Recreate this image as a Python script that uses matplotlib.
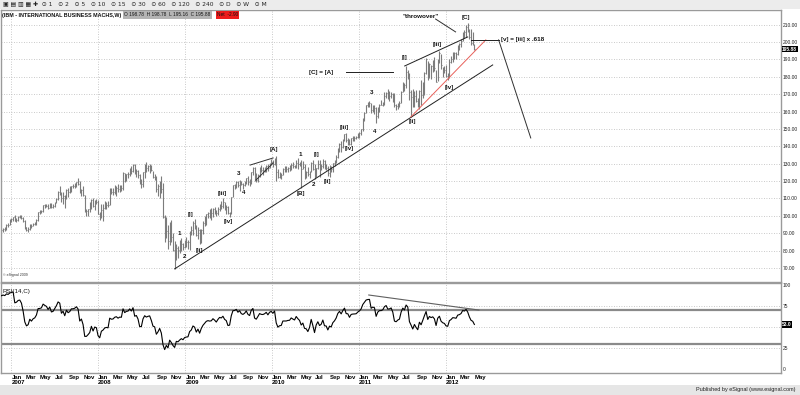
import numpy as np
import pandas as pd
import matplotlib
matplotlib.use("Agg")
import matplotlib.pyplot as plt
from matplotlib.transforms import blended_transform_factory
from matplotlib.patches import Rectangle
from matplotlib import font_manager

# ---------------- data (weekly IBM bars) ----------------
first_week = "2006-08-14"   # first 14 weeks are only RSI warm-up (outside the view)

close = [
    # 2006 (warm-up + visible)
    78.3, 78.9, 81.0, 80.0, 81.7, 81.0, 81.9, 83.7, 85.9, 88.7, 91.8, 90.4, 90.9, 91.6,
    91.6, 92.5, 92.4, 94.9, 94.8, 97.2,
    # 2007
    98.3, 99.3, 96.9, 97.5, 99.2, 99.6, 98.9, 96.9, 93.4, 91.8, 92.3, 95.0, 94.3, 95.5,
    96.0, 97.6, 102.2, 102.3, 102.8, 106.3, 105.9, 105.6, 104.7, 106.5, 105.0, 105.4,
    107.5, 109.9, 114.0, 113.6, 110.0, 111.6, 109.8, 114.6, 113.5, 114.5, 117.2, 117.2,
    117.8, 119.2, 118.4, 113.3, 114.7, 111.8, 103.0, 103.0, 104.0, 105.2, 109.2, 105.7,
    108.5, 108.0, 101.2,
    # 2008
    99.0, 103.6, 104.5, 106.1, 106.5, 106.2, 114.4, 113.7, 113.9, 115.5, 116.0, 115.2,
    116.1, 116.0, 124.4, 122.4, 123.8, 124.1, 126.6, 125.6, 129.4, 124.9, 125.6, 123.6,
    118.5, 118.5, 125.1, 128.5, 127.6, 128.4, 128.8, 126.1, 122.2, 121.7, 115.5, 117.2,
    119.7, 115.6, 99.4, 87.8, 91.5, 85.4, 93.1, 87.9, 80.3, 74.9, 81.6, 80.6, 82.5, 84.0,
    82.0, 84.2,
    # 2009
    84.7, 84.9, 90.0, 91.6, 96.0, 94.7, 88.9, 92.0, 86.8, 92.0, 95.7, 98.2, 100.8, 101.7,
    101.3, 101.6, 104.0, 102.9, 101.4, 104.1, 106.3, 105.9, 107.7, 105.7, 104.9, 101.5,
    101.8, 110.6, 117.6, 117.9, 119.6, 117.8, 119.9, 118.1, 117.6, 118.9, 121.6, 119.7,
    119.0, 125.0, 127.5, 121.4, 120.6, 123.5, 127.0, 126.5, 126.4, 127.2, 128.7, 127.4,
    130.0, 130.9,
    # 2010
    130.0, 132.3, 125.5, 122.4, 123.5, 123.7, 127.2, 127.2, 127.2, 127.6, 127.7, 129.3,
    128.8, 128.4, 130.6, 129.7, 129.0, 127.0, 128.0, 125.5, 125.3, 123.9, 125.7, 130.2,
    127.1, 122.6, 127.5, 130.0, 127.5, 128.4, 131.8, 127.9, 127.8, 124.9, 127.6, 127.0,
    130.2, 131.7, 134.1, 138.7, 141.1, 139.7, 143.6, 146.9, 143.7, 143.6, 141.5, 144.5,
    144.9, 145.0, 145.2, 146.8,
    # 2011
    147.9, 150.0, 155.5, 159.2, 163.5, 164.5, 164.8, 160.7, 162.3, 162.0, 157.5, 162.2,
    164.0, 164.0, 165.0, 169.0, 170.6, 168.9, 169.1, 170.2, 168.3, 163.5, 163.1, 164.4,
    165.1, 171.5, 176.5, 175.5, 183.0, 181.9, 171.5, 168.2, 164.3, 169.1, 166.0, 163.5,
    172.0, 169.3, 175.0, 182.4, 190.5, 181.6, 187.4, 186.0, 187.4, 185.2, 177.1, 189.7,
    193.6, 187.0, 184.8, 183.9,
    # 2012
    180.5, 180.0, 188.5, 190.4, 193.6, 193.4, 193.0, 198.0, 198.8, 200.6, 206.0, 205.5,
    208.6, 206.5, 202.6, 199.6, 198.78, 195.88,
]

high = [
    78.9, 79.6, 81.4, 81.6, 82.0, 82.8, 82.6, 83.8, 86.0, 89.1, 92.0, 92.0, 92.0, 92.1,
    92.4, 93.0, 93.7, 95.5, 95.9, 97.9,
    99.0, 99.5, 100.3, 98.5, 99.9, 100.2, 100.4, 99.2, 97.5, 93.8, 93.5, 95.3, 95.5, 96.0,
    96.2, 98.0, 102.5, 103.3, 103.6, 106.5, 106.9, 107.0, 107.0, 107.2, 107.3, 106.9,
    108.0, 110.5, 114.5, 117.3, 113.5, 113.5, 112.0, 115.2, 116.0, 117.0, 117.4, 118.6,
    118.8, 119.6, 121.5, 120.0, 115.5, 117.0, 112.0, 104.0, 104.0, 108.0, 109.5, 110.4,
    109.0, 109.8, 109.0,
    102.5, 106.7, 107.0, 108.5, 108.0, 108.5, 116.0, 116.0, 115.9, 118.0, 117.4, 118.5,
    117.5, 117.8, 125.0, 124.5, 124.3, 125.2, 127.5, 128.9, 130.0, 129.9, 127.0, 126.5,
    124.2, 121.0, 125.3, 130.0, 130.9, 129.0, 129.6, 129.3, 126.0, 124.0, 123.0, 118.5,
    120.0, 122.8, 119.0, 100.5, 99.5, 94.5, 96.7, 97.5, 90.0, 85.5, 84.0, 82.5, 86.0, 87.0,
    84.5, 86.0,
    87.6, 86.0, 91.0, 94.0, 96.9, 97.9, 95.0, 93.5, 92.5, 92.5, 97.0, 99.8, 101.0, 102.0,
    104.0, 104.8, 104.6, 105.0, 103.2, 105.0, 107.0, 108.6, 110.0, 108.0, 106.0, 105.6,
    102.5, 110.7, 118.0, 118.3, 120.0, 120.0, 120.5, 120.0, 119.0, 119.8, 122.0, 122.9,
    121.0, 125.3, 128.0, 128.0, 124.5, 124.0, 128.0, 129.0, 128.0, 128.0, 129.5, 129.9,
    130.5, 132.9,
    132.0, 133.0, 134.2, 127.0, 125.0, 124.5, 127.5, 128.5, 128.8, 128.0, 129.5, 130.5,
    131.0, 129.5, 132.0, 133.5, 131.0, 132.0, 131.5, 130.0, 126.0, 128.0, 126.0, 131.0,
    131.9, 130.0, 127.5, 132.0, 132.0, 130.0, 132.5, 132.0, 130.0, 128.5, 129.5, 128.8,
    130.5, 132.0, 135.0, 139.0, 142.0, 143.0, 144.0, 146.9, 147.5, 145.0, 144.0, 145.0,
    145.7, 146.0, 146.0, 147.5,
    148.0, 150.0, 156.0, 160.0, 164.0, 165.5, 166.2, 165.0, 163.5, 164.0, 162.5, 162.5,
    164.5, 166.5, 165.5, 171.0, 171.5, 173.0, 172.0, 171.0, 170.5, 170.8, 164.5, 165.0,
    166.0, 172.0, 177.0, 176.5, 186.0, 184.0, 182.0, 172.5, 173.0, 172.0, 172.5, 167.5,
    172.5, 178.0, 177.0, 182.5, 191.0, 189.0, 188.0, 187.0, 189.5, 191.5, 184.0, 190.5,
    194.9, 193.0, 185.5, 186.0,
    186.5, 182.0, 190.5, 192.0, 194.0, 194.0, 194.5, 198.5, 199.2, 202.0, 206.0, 207.0,
    209.5, 210.7, 207.5, 207.5, 206.0, 198.78,
]

low = [
    76.8, 77.5, 78.7, 79.4, 79.5, 80.6, 80.9, 81.5, 83.2, 85.6, 88.3, 89.8, 89.9, 90.0,
    90.6, 90.5, 91.5, 92.0, 93.3, 94.8,
    96.3, 97.3, 96.9, 96.5, 97.3, 98.5, 98.3, 96.5, 92.5, 91.2, 90.7, 92.0, 93.2, 94.0,
    94.6, 94.5, 97.3, 101.0, 101.6, 102.5, 104.6, 104.9, 104.0, 104.5, 104.7, 104.5,
    105.0, 107.3, 109.3, 111.8, 108.0, 106.8, 104.4, 109.5, 111.0, 113.0, 113.7, 116.0,
    116.0, 116.5, 117.5, 113.0, 111.5, 111.5, 102.0, 99.7, 100.0, 102.5, 104.0, 105.0,
    103.6, 107.0, 101.0,
    97.7, 98.5, 97.2, 104.0, 103.8, 105.0, 106.2, 112.6, 112.0, 112.5, 111.5, 113.6,
    114.0, 114.5, 115.0, 119.5, 120.0, 121.5, 123.0, 124.0, 125.5, 124.3, 122.5, 122.0,
    118.2, 116.0, 116.6, 121.9, 125.0, 126.0, 124.5, 125.6, 121.5, 120.5, 114.0, 111.6,
    110.0, 113.0, 98.6, 85.0, 87.0, 81.0, 83.0, 85.0, 79.5, 69.5, 74.5, 76.0, 78.5, 80.0,
    80.5, 81.5,
    82.0, 81.0, 80.5, 89.0, 89.0, 92.5, 88.5, 86.5, 83.8, 84.5, 89.5, 94.0, 95.0, 99.0,
    98.5, 97.5, 99.5, 101.0, 100.0, 100.5, 102.7, 104.0, 104.8, 103.5, 101.0, 101.0,
    99.5, 101.0, 110.8, 115.5, 116.0, 116.5, 114.5, 117.5, 115.5, 117.0, 118.5, 118.0,
    117.0, 118.5, 123.5, 119.8, 119.5, 119.5, 122.5, 125.5, 123.5, 125.5, 125.5, 125.8,
    127.5, 129.5,
    128.0, 129.5, 120.0, 121.5, 121.7, 121.0, 123.5, 125.0, 125.5, 125.5, 126.0, 126.5,
    127.5, 127.5, 127.5, 127.0, 128.5, 116.0, 127.0, 121.0, 121.5, 123.0, 122.0, 125.5,
    126.5, 121.0, 122.5, 127.0, 122.5, 126.5, 127.5, 127.0, 126.5, 123.0, 122.5, 125.5,
    125.5, 128.5, 130.5, 133.5, 137.0, 136.5, 139.0, 143.0, 142.5, 140.5, 141.0, 141.0,
    143.0, 143.0, 144.0, 144.5,
    145.0, 146.5, 149.0, 154.5, 159.0, 162.5, 162.5, 159.0, 159.5, 158.5, 153.5, 156.5,
    160.0, 163.5, 163.0, 164.0, 167.5, 167.0, 166.0, 168.0, 165.5, 162.5, 161.0, 161.5,
    162.5, 165.0, 171.5, 172.0, 173.5, 178.5, 166.5, 157.1, 162.5, 162.5, 165.5, 162.5,
    161.5, 163.5, 167.5, 169.5, 181.5, 178.0, 179.5, 178.5, 182.5, 183.5, 177.0, 177.5,
    188.0, 184.5, 180.0, 182.0,
    180.0, 178.0, 179.0, 188.0, 188.5, 190.5, 190.5, 192.5, 195.5, 197.0, 200.5, 202.5,
    203.0, 205.5, 201.5, 198.0, 198.0, 195.16,
]

last_open = 198.78
net_change = -2.90

month_ticks = pd.date_range("2007-01-01", "2012-05-01", freq="2MS")
year_lines = pd.to_datetime(["2007-01-01", "2008-01-01", "2009-01-01",
                             "2010-01-01", "2011-01-01", "2012-01-01"])
price_ticks = list(range(70, 211, 10))
rsi_ticks = [0, 25, 75, 100]

# Elliott-wave labels: (text, date, price)
wave_labels = [
    ("1", "2008-12-06", 90.1), ("2", "2008-12-27", 76.9),
    ("[i]", "2009-01-21", 100.5), ("[ii]", "2009-02-28", 79.8),
    ("[iii]", "2009-06-05", 113.1), ("[iv]", "2009-06-30", 96.5),
    ("3", "2009-08-15", 124.1), ("4", "2009-09-01", 113.7),
    ("[A]", "2010-01-09", 137.9), ("1", "2010-04-28", 135.0),
    ("[B]", "2010-05-02", 113.1), ("2", "2010-06-26", 118.3),
    ("[i]", "2010-07-08", 135.0), ("[ii]", "2010-08-19", 119.5),
    ("[iii]", "2010-11-02", 151.1), ("[iv]", "2010-11-23", 138.5),
    ("3", "2011-02-24", 170.7), ("4", "2011-03-08", 148.8),
    ("[i]", "2011-07-12", 190.8), ("[ii]", "2011-08-15", 154.0),
    ("[iii]", "2011-11-27", 198.8), ("[iv]", "2012-01-17", 174.1),
    ("[C]", "2012-03-25", 213.8), ("\"throwover\"", "2011-09-17", 214.4),
    ("[C] = [A]", "2010-07-24", 182.7),
]
target_label = ("[v] = [iii] x .618", "2012-08-18", 201.2)

# annotation lines: (date1, price1, date2, price2, colour)
price_lines = [
    ("2008-11-17", 69.5, "2012-07-16", 186.8, "#202020"),
    ("2011-07-12", 186.2, "2012-04-02", 202.9, "#202020"),
    ("2011-08-07", 156.9, "2012-06-17", 201.2, "#e8605a"),
    ("2012-04-15", 201.2, "2012-08-10", 201.2, "#202020"),
    ("2012-08-10", 201.2, "2012-12-23", 144.8, "#303030"),
    ("2011-11-19", 213.2, "2012-02-11", 205.8, "#303030"),
    ("2010-11-06", 182.7, "2011-05-23", 182.7, "#202020"),
    ("2009-09-30", 129.2, "2010-01-05", 133.3, "#303030"),
    ("2009-10-25", 120.6, "2010-01-05", 130.4, "#303030"),
]
rsi_lines = [("2011-02-11", 88.1, "2012-05-19", 70.2, "#606060")]

# ---------------- fonts ----------------
names = {f.name for f in font_manager.fontManager.ttflist}
narrow = "Liberation Sans Narrow" if "Liberation Sans Narrow" in names else "Liberation Sans"
FAM = [narrow, "DejaVu Sans"]
plt.rcParams["font.family"] = FAM

# ---------------- derived series ----------------
dates = pd.date_range(first_week, periods=len(close), freq="W-MON")
c = pd.Series(close, index=dates)
d = c.diff()
gain = d.clip(lower=0).ewm(alpha=1 / 14, adjust=False).mean()
loss = (-d.clip(upper=0)).ewm(alpha=1 / 14, adjust=False).mean()
rsi = 100 - 100 / (1 + gain / loss)

# ---------------- figure ----------------
W, H = 800, 395
fig = plt.figure(figsize=(W / 100, H / 100), dpi=100)
fig.patch.set_facecolor("white")


def frame(x0, y0, x1, y1):
    return [x0 / W, 1 - y1 / H, (x1 - x0) / W, (y1 - y0) / H]


ax = fig.add_axes(frame(1, 10, 781, 282))
axr = fig.add_axes(frame(1, 283, 781, 373), sharex=ax)

x0 = pd.Timestamp("2006-11-18")
x1 = pd.Timestamp("2015-11-10")
ax.set_xlim(x0, x1)
ax.set_ylim(61.95, 218.4)
axr.set_ylim(-4.8, 102.4)

for a in (ax, axr):
    for s in a.spines.values():
        s.set_color("#9a9a9a")
        s.set_linewidth(1.0)
    a.yaxis.tick_right()
    a.tick_params(axis="y", length=0, pad=1.2, labelsize=3.5, colors="#222222")
    a.set_facecolor("white")

ax.tick_params(axis="x", length=0, labelbottom=False)

# grids
grid_kw = dict(color="#b8b8b8", linewidth=0.6, linestyle=(0, (1, 2)), zorder=0)
for p in price_ticks:
    ax.axhline(p, **grid_kw)
for g in (25, 50, 75):
    axr.axhline(g, **grid_kw)
for yl in year_lines:
    ax.axvline(yl, **grid_kw)
    axr.axvline(yl, **grid_kw)

# price bars
vis = dates >= x0
ax.vlines(dates[vis], np.array(low)[vis], np.array(high)[vis], color="#7c7c7c",
          linewidth=0.8, zorder=2)
ax.hlines(np.array(close)[vis], dates[vis], dates[vis] + pd.Timedelta(days=3),
          color="#7c7c7c", linewidth=0.7, zorder=2)

ax.set_yticks(price_ticks)
ax.set_yticklabels([f"{p:.2f}" for p in price_ticks])

# annotation lines
for da, pa, db, pb, col in price_lines:
    ax.plot([pd.Timestamp(da), pd.Timestamp(db)], [pa, pb], color=col, lw=0.7, zorder=3)

for txt, dt, pr in wave_labels:
    ax.text(pd.Timestamp(dt), pr, txt, fontsize=4.5, ha="center", va="center",
            color="#111111", fontweight="bold", zorder=4)
ax.text(pd.Timestamp(target_label[1]), target_label[2], target_label[0], fontsize=4.5,
        ha="left", va="center", color="#111111", fontweight="bold", zorder=4)

# current price tag
bt = blended_transform_factory(ax.transAxes, ax.transData)
ax.text(1.0015, close[-1], f"{close[-1]:.2f}", transform=bt, fontsize=3.5, color="white",
        ha="left", va="center", fontweight="bold",
        bbox=dict(boxstyle="square,pad=0.12", facecolor="black", edgecolor="none"),
        clip_on=False, zorder=5)

ax.text(0.003, 0.018, "© eSignal 2009", transform=ax.transAxes, fontsize=2.6,
        color="#333333", ha="left", va="bottom")

# RSI panel
rv = rsi[rsi.index >= x0]
axr.plot(rv.index, rv.values, color="black", lw=0.8, zorder=3)
axr.axhline(70, color="#8a8a8a", lw=1.6, zorder=1)
axr.axhline(30, color="#8a8a8a", lw=1.6, zorder=1)
for da, pa, db, pb, col in rsi_lines:
    axr.plot([pd.Timestamp(da), pd.Timestamp(db)], [pa, pb], color=col, lw=0.8, zorder=3)
axr.set_yticks(rsi_ticks)
axr.set_yticklabels([str(v) for v in rsi_ticks])
btr = blended_transform_factory(axr.transAxes, axr.transData)
axr.text(1.0015, rv.values[-1], f"{rv.values[-1]:.1f}", transform=btr, fontsize=3.5,
         color="white", ha="left", va="center", fontweight="bold",
         bbox=dict(boxstyle="square,pad=0.12", facecolor="black", edgecolor="none"),
         clip_on=False, zorder=5)
axr.text(0.002, 0.93, "RSI(14,C)", transform=axr.transAxes, fontsize=4.5,
         color="#111111", ha="left", va="top")

labels = [(m.strftime("%b") + ("\n" + m.strftime("%Y") if m.month == 1 else ""))
          for m in month_ticks]
axr.set_xticks(month_ticks)
axr.set_xticklabels(labels)
axr.tick_params(axis="x", length=0, pad=1.5, labelsize=4.3)
for t in axr.get_xticklabels():
    t.set_horizontalalignment("left")
    t.set_fontweight("bold")
    t.set_linespacing(1.0)

# ---------------- chrome: toolbar, title, footer ----------------
fig.patches.append(Rectangle((0, 1 - 9 / H), 1, 9 / H, transform=fig.transFigure,
                             facecolor="#ececec", edgecolor="none", zorder=0))
fig.patches.append(Rectangle((0, 0), 1, 10 / H, transform=fig.transFigure,
                             facecolor="#e6e6e6", edgecolor="none", zorder=0))
fig.text(3 / W, 1 - 4.5 / H,
         "▣ ▤ ▥ ▦ ✚  ⊙ 1   ⊙ 2   ⊙ 5   ⊙ 10   ⊙ 15   ⊙ 30   ⊙ 60   ⊙ 120   ⊙ 240   ⊙ D   ⊙ W   ⊙ M",
         fontsize=4.3, va="center", ha="left", color="#222222",
         family=["DejaVu Sans"])
fig.text(2 / W, 1 - 15 / H, "(IBM - INTERNATIONAL BUSINESS MACHS,W)", fontsize=3.9,
         fontweight="bold", va="center", ha="left", color="#111111")
fig.text(124 / W, 1 - 15 / H,
         f"O {last_open:.2f}  H {high[-1]:.2f}  L {low[-1]:.2f}  C {close[-1]:.2f}",
         fontsize=3.4, va="center", ha="left", color="#111111",
         bbox=dict(boxstyle="square,pad=0.25", facecolor="#b4b4b4", edgecolor="none"))
fig.text(217 / W, 1 - 15 / H, f"Net  {net_change:.2f}", fontsize=3.4, va="center",
         ha="left", color="#111111",
         bbox=dict(boxstyle="square,pad=0.25", facecolor="#ee1c1c", edgecolor="none"))
fig.text(796 / W, 1 - 390 / H, "Published by eSignal (www.esignal.com)", fontsize=4.0,
         va="center", ha="right", color="#222222")

fig.savefig("out.png", dpi=100)
